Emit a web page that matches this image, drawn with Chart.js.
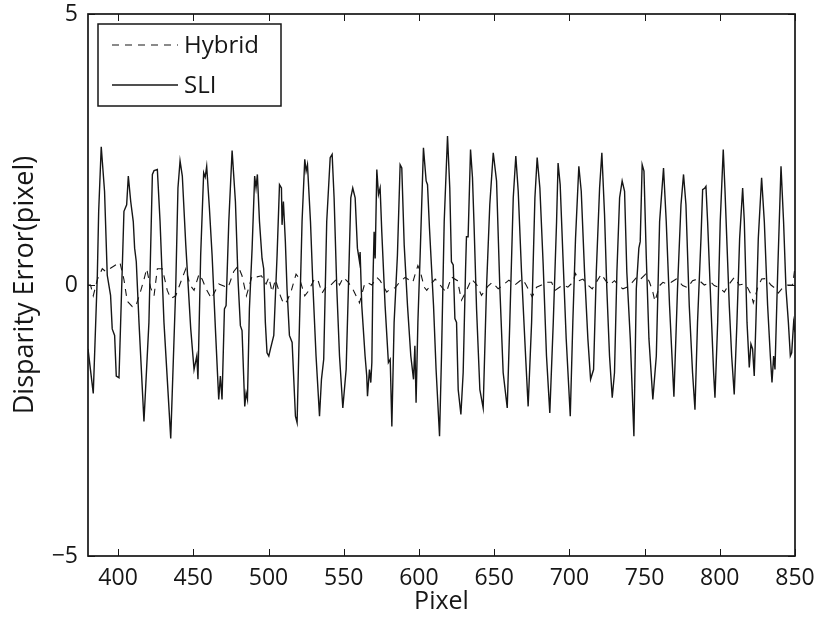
<!DOCTYPE html>
<html>
<head>
<meta charset="utf-8">
<script src="https://cdn.jsdelivr.net/npm/chart.js@4.4.1/dist/chart.umd.min.js"></script>
<style>
  html, body { margin: 0; padding: 0; background: #fff; }
</style>
</head>
<body>
<canvas id="myChart" width="817" height="619"></canvas>
<script>
// data (x = pixel column, y = disparity error)
const sliX = [380.0, 383.5, 386.2, 387.1, 388.8, 391.0, 392.8, 395.0, 396.1, 397.7, 398.8, 400.6, 401.7, 403.9, 405.7, 406.8, 408.4, 410.1, 411.0, 412.1,
    413.9, 417.2, 420.5, 422.8, 423.9, 426.1, 427.9, 430.5, 435.0, 438.3, 439.8, 441.2, 442.7, 445.0, 448.3, 450.5, 452.3, 453.1, 454.9, 456.9,
    457.9, 458.9, 460.7, 462.5, 464.7, 466.9, 468.0, 469.1, 470.7, 471.8, 473.6, 475.8, 478.0, 479.8, 481.3, 482.4, 484.2, 485.1, 486.0, 487.3,
    489.1, 490.8, 491.7, 492.6, 494.0, 495.7, 496.8, 497.9, 499.0, 500.2, 501.3, 503.5, 505.7, 507.3, 508.6, 509.0, 509.9, 511.2, 512.3, 513.9,
    515.7, 517.9, 519.0, 520.6, 522.3, 524.1, 525.0, 525.9, 527.9, 529.6, 531.6, 533.9, 535.2, 536.7, 538.7, 541.0, 542.3, 543.6, 545.4, 547.2,
    549.4, 551.6, 553.1, 554.7, 556.0, 557.6, 559.1, 560.5, 560.9, 562.0, 564.2, 565.3, 565.8, 567.1, 568.0, 568.7, 569.3, 570.2, 570.9, 572.0,
    573.1, 574.2, 575.3, 577.5, 579.7, 580.9, 582.0, 583.5, 585.7, 587.5, 588.6, 590.2, 592.4, 594.6, 596.4, 597.3, 598.1, 599.3, 600.8, 603.0,
    604.8, 605.7, 607.0, 609.7, 611.4, 613.7, 615.0, 616.8, 619.0, 620.5, 621.6, 622.8, 623.9, 625.0, 626.1, 627.9, 629.4, 631.0, 631.6, 632.7,
    634.3, 635.6, 636.7, 638.3, 640.5, 642.7, 644.9, 647.1, 649.4, 651.6, 653.8, 656.0, 658.7, 660.4, 662.7, 664.4, 666.0, 668.2, 670.9, 672.6,
    674.9, 677.1, 678.6, 680.4, 682.6, 684.8, 687.0, 689.3, 691.5, 692.5, 693.9, 695.7, 697.9, 700.6, 702.3, 704.1, 706.3, 707.9, 710.1, 712.3,
    714.1, 716.1, 717.9, 720.1, 721.6, 723.4, 724.9, 726.7, 728.5, 730.0, 731.6, 733.4, 735.1, 736.7, 738.2, 740.5, 742.9, 744.5, 746.2, 747.1,
    748.4, 749.6, 751.1, 752.9, 755.5, 757.8, 760.0, 762.6, 764.4, 766.6, 769.5, 771.9, 774.2, 775.9, 777.5, 779.7, 781.9, 783.5, 785.2, 787.5,
    788.6, 790.1, 790.8, 791.9, 794.1, 795.9, 796.8, 798.6, 800.3, 802.3, 803.4, 804.8, 806.3, 807.9, 809.6, 811.4, 813.2, 815.2, 816.3, 818.1,
    819.6, 820.7, 821.8, 822.9, 824.0, 825.6, 827.8, 829.6, 831.8, 833.6, 834.7, 835.8, 836.7, 838.5, 840.7, 842.4, 844.0, 845.6, 846.9, 847.8,
    849.1, 850.0];
const sliY = [-1.18, -2.00, 0.18, 1.36, 2.55, 1.73, 0.18, -0.19, -0.81, -0.93, -1.68, -1.71, -0.69, 1.36, 1.48, 2.01, 1.54, 1.17, 0.68, 0.43,
    -0.69, -2.52, -0.69, 2.04, 2.11, 2.13, 1.17, -0.69, -2.83, -0.07, 1.79, 2.29, 2.01, 0.74, -0.81, -1.56, -1.31, -1.74, 0.55, 2.07,
    1.99, 2.19, 1.42, 0.55, -0.81, -2.11, -1.68, -2.11, -0.44, -0.38, 1.17, 2.48, 1.54, 0.06, -0.75, -0.84, -2.24, -1.99, -2.11, -0.44,
    0.68, 2.01, 1.79, 2.04, 1.17, 0.49, 0.30, -0.69, -1.25, -1.31, -1.18, -0.93, 0.55, 1.85, 1.79, 1.11, 1.54, 0.80, -0.07, -0.93,
    -1.06, -2.42, -2.54, -0.69, 1.17, 2.32, 2.10, 2.22, 1.17, -0.07, -1.31, -2.42, -1.74, -1.37, 1.17, 2.35, 2.41, 1.61, -0.07, -1.31,
    -2.27, -1.56, -0.07, 1.61, 1.79, 1.61, 0.68, 0.43, 0.61, -0.38, -1.31, -1.68, -2.05, -1.56, -1.80, -1.43, -0.07, 0.98, 0.49, 2.13,
    1.67, 1.79, 0.98, -0.38, -1.43, -1.37, -2.61, -0.69, 0.55, 2.22, 2.16, 0.74, -0.38, -1.31, -1.74, -1.12, -2.17, -0.69, 0.55, 2.53,
    1.92, 1.85, 1.05, -0.38, -1.56, -2.79, -1.31, 1.17, 2.75, 1.79, 0.43, 0.37, -0.62, -0.69, -1.93, -2.39, -1.62, 0.30, 0.89, 0.89,
    2.50, 1.98, 1.05, -0.44, -1.93, -2.27, -0.07, 1.48, 2.44, 1.92, -0.07, -1.62, -2.27, -0.69, 1.61, 2.38, 1.73, 0.24, -1.31, -2.24,
    -0.69, 1.61, 2.35, 1.79, 0.37, -1.31, -2.36, -0.69, 1.17, 2.25, 1.85, 0.55, -0.99, -2.42, -0.69, 0.86, 2.19, 1.73, 0.24, -0.99,
    -1.74, -1.56, 0.24, 1.79, 2.44, 1.29, -0.07, -1.31, -2.08, -1.62, 0.24, 1.61, 1.92, 1.73, 0.24, -0.99, -2.79, -0.07, 0.68, 0.80,
    2.22, 2.10, 0.55, -0.99, -2.11, -1.31, 1.17, 2.16, 1.17, -0.38, -2.06, -0.07, 1.48, 2.04, 1.48, -0.38, -1.62, -2.30, -0.69, 0.86,
    1.76, 1.79, 1.82, 1.17, -0.38, -1.62, -2.08, -0.69, 1.17, 2.50, 1.79, 0.74, -0.38, -1.31, -2.02, -0.69, 0.86, 1.79, 1.17, -0.69,
    -1.52, -1.09, -1.18, -1.68, -0.69, 0.86, 1.98, 1.17, -0.38, -1.31, -1.80, -1.31, -1.56, 0.24, 2.19, 1.17, -0.07, -0.69, -1.31, -1.25,
    -0.69, -0.87];

const hybridX = [380.0, 381.7, 383.5, 386.2, 389.5, 391.7, 397.3, 401.2, 403.9, 406.1, 409.5, 411.7, 414.6, 417.2, 419.0, 421.6, 423.9, 426.1, 429.4, 432.7,
    435.0, 438.3, 441.6, 445.0, 447.8, 450.5, 453.8, 456.0, 458.5, 462.0, 466.9, 473.1, 476.9, 479.8, 482.4, 485.3, 489.1, 492.4, 495.3, 498.4,
    500.2, 502.4, 504.6, 507.9, 510.1, 512.3, 515.2, 518.3, 520.6, 524.1, 526.3, 530.7, 533.0, 535.6, 538.7, 541.4, 545.4, 547.2, 549.8, 553.1,
    556.5, 559.1, 560.5, 563.6, 565.3, 568.7, 572.0, 574.2, 578.6, 580.9, 584.2, 587.1, 590.8, 593.0, 595.9, 597.5, 599.3, 600.8, 603.5, 605.2,
    609.0, 610.8, 614.1, 616.1, 618.3, 621.6, 625.6, 628.3, 631.6, 635.0, 638.3, 641.6, 645.6, 648.7, 652.7, 656.0, 659.8, 663.8, 668.6, 670.9,
    675.3, 678.2, 681.5, 684.8, 688.2, 690.4, 695.7, 699.0, 702.3, 704.1, 706.3, 709.0, 712.3, 715.2, 717.9, 721.2, 724.1, 726.7, 730.0, 733.4,
    735.6, 738.2, 741.8, 745.6, 747.8, 750.7, 753.3, 755.5, 756.9, 760.0, 762.2, 764.8, 767.7, 771.1, 775.3, 778.6, 781.9, 785.2, 789.7, 794.1,
    796.3, 799.7, 803.0, 806.3, 809.6, 813.0, 816.3, 818.5, 821.2, 822.3, 825.2, 827.8, 830.7, 834.0, 837.3, 838.9, 841.8, 845.1, 848.4, 850.0];
const hybridY = [0.00, 0.00, -0.20, 0.10, 0.30, 0.25, 0.35, 0.42, 0.10, -0.30, -0.40, -0.40, -0.15, 0.10, 0.30, -0.05, -0.20, 0.30, 0.30, -0.10,
    -0.25, -0.20, 0.05, 0.30, 0.00, -0.10, 0.20, 0.10, -0.07, -0.25, 0.02, -0.05, 0.25, 0.35, 0.17, -0.20, 0.17, 0.15, 0.17, 0.02,
    0.14, -0.13, 0.10, -0.20, -0.35, -0.30, -0.10, 0.20, 0.12, -0.20, -0.12, 0.12, 0.08, -0.15, -0.01, 0.00, 0.11, 0.00, 0.14, 0.05,
    -0.10, -0.25, -0.33, -0.01, 0.05, 0.00, 0.14, 0.08, -0.13, -0.07, -0.05, 0.05, 0.14, 0.10, 0.05, 0.20, 0.36, 0.26, -0.04, -0.10,
    0.05, 0.11, 0.00, -0.07, -0.13, 0.15, 0.08, -0.28, -0.10, 0.11, 0.01, -0.19, -0.03, 0.05, -0.07, 0.00, 0.09, 0.00, 0.11, 0.02,
    -0.22, -0.04, 0.00, 0.05, 0.05, -0.10, 0.00, -0.04, 0.05, 0.21, 0.08, 0.11, 0.00, -0.07, 0.05, 0.20, 0.08, 0.00, 0.08, -0.03,
    -0.07, -0.04, 0.05, 0.17, 0.12, 0.20, 0.05, -0.13, -0.30, -0.01, 0.05, 0.02, 0.05, 0.11, -0.01, -0.05, 0.08, 0.11, 0.00, 0.05,
    -0.01, -0.05, -0.13, 0.02, 0.14, 0.00, 0.02, -0.05, -0.20, -0.33, -0.05, 0.11, 0.12, 0.00, -0.07, -0.15, -0.05, 0.00, 0.00, 0.33];

const xTicks = [400, 450, 500, 550, 600, 650, 700, 750, 800, 850];
const yTicks = [-5, 0, 5];

const FONT = '"Open Sans", "Noto Sans", sans-serif';
const INK = '#161616';

// box around the axes + inward tick marks (matlab style)
const boxPlugin = {
    id: 'box',
    afterDatasetsDraw(chart) {
        const {ctx, chartArea: a, scales: {x, y}} = chart;
        ctx.save();
        ctx.strokeStyle = INK;
        ctx.lineWidth = 1;
        ctx.beginPath();
        xTicks.forEach(v => {
            const px = Math.round(x.getPixelForValue(v)) + 0.5;
            ctx.moveTo(px, a.bottom); ctx.lineTo(px, a.bottom - 7);
            ctx.moveTo(px, a.top); ctx.lineTo(px, a.top + 7);
        });
        yTicks.forEach(v => {
            const py = Math.round(y.getPixelForValue(v)) + 0.5;
            ctx.moveTo(a.left, py); ctx.lineTo(a.left + 7, py);
            ctx.moveTo(a.right, py); ctx.lineTo(a.right - 7, py);
        });
        ctx.stroke();
        ctx.lineWidth = 1.7;
        ctx.strokeRect(a.left, a.top, a.right - a.left, a.bottom - a.top);
        ctx.restore();
    }
};

// legend box in the top-left corner of the axes
const legendPlugin = {
    id: 'boxLegend',
    afterDraw(chart) {
        const {ctx, chartArea: a} = chart;
        const left = a.left + 10, top = a.top + 10, w = 183, h = 82;
        ctx.save();
        ctx.fillStyle = '#fff';
        ctx.fillRect(left, top, w, h);
        ctx.strokeStyle = INK;
        ctx.lineWidth = 1.5;
        ctx.strokeRect(left, top, w, h);
        ctx.font = '24px ' + FONT;
        ctx.textBaseline = 'middle';
        ctx.fillStyle = INK;
        chart.data.datasets.forEach((ds, i) => {
            const cy = top + 21 + i * 40;
            ctx.beginPath();
            ctx.lineWidth = ds.borderWidth;
            ctx.setLineDash(ds.borderDash || []);
            ctx.moveTo(left + 14, cy);
            ctx.lineTo(left + 80, cy);
            ctx.stroke();
            ctx.setLineDash([]);
            ctx.fillText(ds.label, left + 86, cy + 1);
        });
        ctx.restore();
    }
};

const config = {
    type: 'line',
    data: {
        datasets: [{
            label: 'Hybrid',
            data: hybridX.map((x, i) => ({x: x, y: hybridY[i]})),
            borderColor: INK,
            borderWidth: 1.1,
            borderDash: [7, 6],
            pointRadius: 0,
            tension: 0
        }, {
            label: 'SLI',
            data: sliX.map((x, i) => ({x: x, y: sliY[i]})),
            borderColor: INK,
            borderWidth: 1.4,
            pointRadius: 0,
            tension: 0
        }]
    },
    options: {
        responsive: false,
        animation: false,
        layout: {padding: {top: 14, right: 22, left: 0, bottom: 0}},
        plugins: {legend: {display: false}, tooltip: {enabled: false}},
        scales: {
            x: {
                type: 'linear',
                min: 380,
                max: 850,
                grid: {display: false, drawTicks: false},
                border: {display: false},
                afterBuildTicks: s => { s.ticks = xTicks.map(v => ({value: v})); },
                afterFit: s => { s.height = 63; s.paddingLeft = 0; s.paddingRight = 0; },
                ticks: {color: INK, padding: 9, maxRotation: 0, font: {family: FONT, size: 23}},
                title: {display: true, text: 'Pixel', color: INK, padding: {top: 0, bottom: 2}, font: {family: FONT, size: 25}}
            },
            y: {
                min: -5,
                max: 5,
                grid: {display: false, drawTicks: false},
                border: {display: false},
                afterBuildTicks: s => { s.ticks = yTicks.map(v => ({value: v})); },
                afterFit: s => { s.width = 88; s.paddingTop = 0; s.paddingBottom = 0; },
                ticks: {
                    color: INK, padding: 10, font: {family: FONT, size: 23},
                    callback: v => v < 0 ? '\u2212' + Math.abs(v) : String(v)
                },
                title: {display: true, text: 'Disparity Error(pixel)', color: INK, padding: {top: 9, bottom: 0}, font: {family: FONT, size: 27}}
            }
        }
    },
    plugins: [boxPlugin, legendPlugin]
};

const myChart = new Chart(document.getElementById('myChart'), config);
</script>
</body>
</html>
